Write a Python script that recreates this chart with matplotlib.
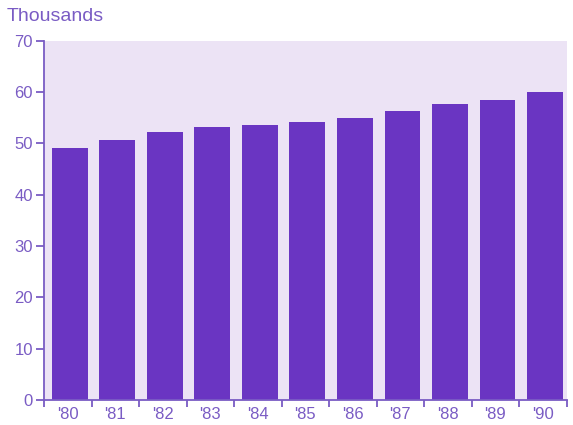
import matplotlib.pyplot as plt
import numpy as np

plt.rcParams['font.family'] = ['Liberation Sans', 'DejaVu Sans']

years = ["'80", "'81", "'82", "'83", "'84", "'85", "'86", "'87", "'88", "'89", "'90"]
values = [49.1, 50.6, 52.2, 53.2, 53.5, 54.1, 54.9, 56.4, 57.7, 58.5, 60.1]

txt = '#7a5cc4'
bar_col = '#6a35c2'

fig = plt.figure(figsize=(5.73, 4.25), dpi=100)
ax = fig.add_axes([0.077, 0.059, 0.912, 0.845])

x = np.arange(len(years))
ax.bar(x + 0.04, values, width=0.75, color=bar_col, zorder=2)
ax.set_facecolor('#ece3f5')

ax.set_xlim(-0.5, len(years) - 0.5)
ax.set_ylim(0, 70)
ax.set_yticks(range(0, 71, 10))
ax.set_xticks(x)
ax.set_xticklabels(years)
ax.set_xticks(np.arange(-0.5, len(years)), minor=True)
ax.tick_params(axis='x', which='major', length=0, pad=5, labelcolor=txt, labelsize=12)
ax.tick_params(axis='x', which='minor', length=5, width=1.3, color=txt, direction='out')
ax.tick_params(axis='y', length=6, width=1.3, color=txt, labelcolor=txt, labelsize=12, pad=2)

for s in ['top', 'right']:
    ax.spines[s].set_visible(False)
for s in ['left', 'bottom']:
    ax.spines[s].set_color(txt)
    ax.spines[s].set_linewidth(1.3)

fig.text(0.012, 0.95, 'Thousands', color=txt, fontsize=14)

fig.savefig('out.png')
